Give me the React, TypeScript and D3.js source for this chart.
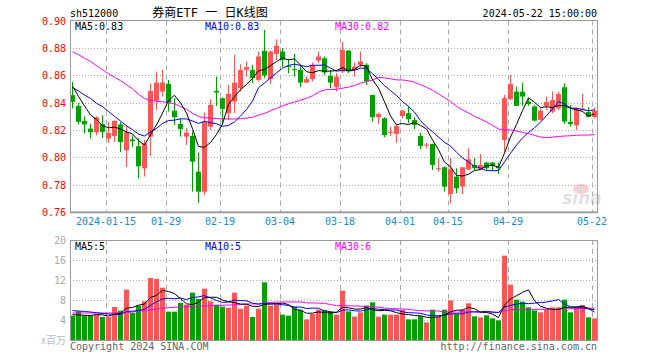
import React from "react";
import * as d3 from "d3";

// ---- data ----
const opens = [0.8454,0.8376,0.8266,0.8210,0.8183,0.8242,0.8137,0.8156,0.8240,0.8051,0.8130,0.8081,0.7919,0.8151,0.8415,0.8480,0.8537,0.8341,0.8244,0.8151,0.8156,0.7895,0.7749,0.8224,0.8485,0.8432,0.8322,0.8407,0.8505,0.8639,0.8639,0.8566,0.8778,0.8571,0.8756,0.8773,0.8668,0.8644,0.8639,0.8546,0.8571,0.8707,0.8724,0.8595,0.8512,0.8627,0.8780,0.8639,0.8676,0.8676,0.8456,0.8293,0.8285,0.8180,0.8171,0.8302,0.8322,0.8273,0.8156,0.8090,0.8098,0.7917,0.7927,0.7732,0.7859,0.7785,0.7910,0.7944,0.7912,0.7961,0.7961,0.7932,0.8127,0.8424,0.8480,0.8480,0.8407,0.8371,0.8273,0.8376,0.8334,0.8358,0.8512,0.8259,0.8234,0.8344,0.8332,0.8295];
const highs = [0.8552,0.8400,0.8300,0.8247,0.8300,0.8307,0.8259,0.8270,0.8259,0.8234,0.8161,0.8139,0.8127,0.8541,0.8627,0.8639,0.8566,0.8432,0.8285,0.8212,0.8188,0.8034,0.8327,0.8424,0.8590,0.8437,0.8529,0.8749,0.8680,0.8700,0.8676,0.8773,0.8932,0.8780,0.8863,0.8798,0.8717,0.8756,0.8676,0.8590,0.8693,0.8773,0.8737,0.8639,0.8615,0.8846,0.8785,0.8693,0.8773,0.8688,0.8456,0.8327,0.8293,0.8224,0.8237,0.8346,0.8371,0.8293,0.8180,0.8107,0.8098,0.7993,0.7932,0.7993,0.7920,0.7927,0.8066,0.7993,0.8024,0.7968,0.7968,0.7961,0.8456,0.8602,0.8517,0.8546,0.8432,0.8383,0.8358,0.8444,0.8480,0.8480,0.8541,0.8383,0.8364,0.8463,0.8366,0.8366];
const lows = [0.8357,0.8240,0.8174,0.8137,0.8161,0.8141,0.8105,0.8112,0.8039,0.7929,0.8075,0.7846,0.7859,0.8010,0.8346,0.8444,0.8334,0.8237,0.8151,0.8090,0.7749,0.7668,0.7724,0.8200,0.8376,0.8237,0.8273,0.8322,0.8480,0.8590,0.8541,0.8554,0.8578,0.8537,0.8712,0.8659,0.8615,0.8590,0.8512,0.8541,0.8554,0.8688,0.8602,0.8505,0.8480,0.8615,0.8615,0.8590,0.8659,0.8529,0.8261,0.8244,0.8146,0.8156,0.8107,0.8285,0.8249,0.8205,0.8059,0.8066,0.7907,0.7895,0.7749,0.7663,0.7737,0.7730,0.7910,0.7907,0.7907,0.7907,0.7902,0.7878,0.8041,0.8420,0.8376,0.8376,0.8376,0.8261,0.8268,0.8346,0.8322,0.8346,0.8244,0.8224,0.8200,0.8344,0.8293,0.8285];
const closes = [0.8405,0.8259,0.8240,0.8183,0.8291,0.8185,0.8178,0.8266,0.8112,0.8185,0.8117,0.7934,0.8102,0.8485,0.8546,0.8546,0.8395,0.8293,0.8207,0.8180,0.7968,0.7749,0.8261,0.8383,0.8473,0.8354,0.8463,0.8546,0.8639,0.8659,0.8578,0.8737,0.8598,0.8773,0.8815,0.8712,0.8659,0.8639,0.8546,0.8571,0.8676,0.8737,0.8620,0.8546,0.8590,0.8785,0.8627,0.8663,0.8700,0.8554,0.8293,0.8317,0.8163,0.8185,0.8229,0.8341,0.8278,0.8237,0.8083,0.8093,0.7944,0.7920,0.7785,0.7912,0.7773,0.7927,0.7985,0.7920,0.7944,0.7920,0.7937,0.7920,0.8432,0.8534,0.8376,0.8444,0.8390,0.8268,0.8340,0.8405,0.8418,0.8462,0.8261,0.8242,0.8355,0.8355,0.8295,0.8340];
const volumes = [4.87,5.73,4.87,4.87,5.07,4.6,4.6,6.6,5.87,10.07,5.4,6.87,7.73,12.4,12.2,10.47,5.67,5.67,7.4,7.07,9.47,8.2,10.27,7.73,7.07,6.67,6.47,9.47,6.27,6.87,4.6,6.27,11.53,6.87,7.13,5.07,4.87,6.6,6.07,4.13,5.2,6.07,6.0,5.6,5.07,9.87,5.73,4.67,5.53,6.87,7.53,4.67,5.07,5.07,5.07,6.07,4.13,4.13,4.8,3.53,6.07,4.6,6.07,7.93,5.2,6.07,7.33,4.73,4.53,4.93,4.33,3.93,16.87,11.07,8.07,7.67,6.53,5.93,5.53,6.07,6.53,6.53,8.07,5.53,6.53,7.0,4.53,4.33];

// moving-average values at the left edge (window starts before the visible data)
const ma5Lead = [0.852,0.8445,0.8375,0.831];
const ma10Lead = [0.851,0.8485,0.8455,0.843,0.8395,0.837,0.8335,0.830,0.8265];
const ma30Lead = [0.8771,0.8750,0.8725,0.8700,0.8670,0.8640,0.8610,0.8585,0.8560,0.8530,0.8500,0.8460,0.8430,0.8415,0.8410,0.8405,0.8400,0.8390,0.8371,0.8351,0.8322,0.8298,0.8290,0.8285,0.8283,0.8281,0.8280,0.8280,0.8282];
const vma5Lead = [5.07,5.0,4.95,4.9];
const vma10Lead = [5.87,5.8,5.7,5.6,5.45,5.3,5.2,5.15,5.1];
const vma30Lead = [5.4,5.4,5.4,5.4,5.4,5.4,5.4,5.42,5.45,5.5,5.6,5.75,5.9,6.05,6.2,6.35,6.45,6.55,6.6,6.65,6.7,6.75,6.8,6.85,6.9,6.95,7.0,7.05,7.1];

const tickIndex = [6,16,25,35,45,55,63,73,87];
const tickLabels = ["2024-01-15","01-29","02-19","03-04","03-18","04-01","04-15","04-29","05-22"];
const priceTicks = [0.90,0.88,0.86,0.84,0.82,0.80,0.78,0.76];
const volTicks = [20,16,12,8,4];
const volLegendValues = ["5","5","6"];

const code = "sh512000";
const title = "券商ETF 一 日K线图";
const stamp = "2024-05-22 15:00:00";

// ---- layout ----
const W = 660, H = 360;
const L = 70, R = 597;
const MT = 20.5, MB = 212;
const VT = 240, VB = 340;
const RED = "#ff5555", GREEN = "#00a000";
const MONO = "'DejaVu Sans Mono', monospace";

function movingAvg(vals: number[], n: number, lead: number[]) {
  return vals.map((_, i) => (i < n - 1 ? lead[i] : d3.mean(vals.slice(i - n + 1, i + 1)) as number));
}

export default function App() {
  const n = closes.length;
  const x = d3.scaleLinear().domain([0, n]).range([L, L + 6 * n]);
  const bw = 5;
  const cx = (i: number) => x(i) + 2.5;
  const y = d3.scaleLinear().domain([0.76, 0.9]).range([MB, MT]);
  const yv = d3.scaleLinear().domain([0, 20]).range([VB, VT]);

  const ma5 = movingAvg(closes, 5, ma5Lead);
  const ma10 = movingAvg(closes, 10, ma10Lead);
  const ma30 = movingAvg(closes, 30, ma30Lead);
  const vma5 = movingAvg(volumes, 5, vma5Lead);
  const vma10 = movingAvg(volumes, 10, vma10Lead);
  const vma30 = movingAvg(volumes, 30, vma30Lead);

  const lineP = d3.line<number>().x((_, i) => cx(i)).y((d) => y(d));
  const lineV = d3.line<number>().x((_, i) => cx(i)).y((d) => yv(d));
  const crisp = (v: number) => Math.round(v) + 0.5;

  const up = (i: number) => closes[i] >= opens[i];
  const maColors = ["#000000", "#0000ff", "#ff00ff"];
  const legendX = [75, 205, 335];
  const priceLegend = [ma5, ma10, ma30].map((a, k) => ["MA5:", "MA10:", "MA30:"][k] + a[n - 1].toFixed(2));
  const volLegend = volLegendValues.map((v, k) => ["MA5:", "MA10:", "MA30:"][k] + v);

  return (
    <svg width={W} height={H} style={{ position: "absolute", left: 0, top: 0, background: "#fff" }}
      fontFamily={MONO} fontSize={10}>
      <rect x={0} y={0} width={W} height={H} fill="#fff" />
      {/* header */}
      <text x={70} y={16.5} fill="#000">{code}</text>
      <text x={210} y={17} textAnchor="middle" fontSize={12} fontFamily="'DejaVu Sans Mono', 'Noto Sans CJK SC', monospace" fill="#000">{title}</text>
      <text x={597} y={16.5} textAnchor="end" fill="#000">{stamp}</text>

      {/* watermark */}
      <g opacity={0.55}>
        <ellipse cx={581} cy={189} rx={8} ry={5} fill="#f3a9a9" />
        <circle cx={582} cy={189} r={2.5} fill="#bbb" />
        <text x={582} y={204} textAnchor="middle" fontSize={17} fontStyle="italic" fontWeight="bold"
          fontFamily="'DejaVu Sans', sans-serif" fill="#c8c8c8">sina</text>
      </g>

      {/* main grid */}
      {priceTicks.slice(1, -1).map((t) => (
        <line key={"hg" + t} x1={L} x2={R} y1={crisp(y(t))} y2={crisp(y(t))} stroke="#aaa" strokeDasharray="1,2" />
      ))}
      {tickIndex.map((ti) => (
        <line key={"vg" + ti} x1={x(ti) + 0.5} x2={x(ti) + 0.5} y1={MT} y2={MB} stroke="#aaa" strokeDasharray="5,4" />
      ))}
      {/* volume grid */}
      {volTicks.slice(1).map((t) => (
        <line key={"vhg" + t} x1={L} x2={R} y1={crisp(yv(t))} y2={crisp(yv(t))} stroke="#aaa" strokeDasharray="1,2" />
      ))}
      {tickIndex.map((ti) => (
        <line key={"vvg" + ti} x1={x(ti) + 0.5} x2={x(ti) + 0.5} y1={VT} y2={VB} stroke="#aaa" strokeDasharray="5,4" />
      ))}

      {/* candles */}
      {closes.map((c, i) => {
        const col = up(i) ? RED : GREEN;
        const top = y(Math.max(opens[i], c));
        const bot = y(Math.min(opens[i], c));
        return (
          <g key={"c" + i}>
            <line x1={cx(i)} x2={cx(i)} y1={y(highs[i])} y2={y(lows[i])} stroke={col} strokeWidth={1} />
            <rect x={x(i)} y={top} width={bw} height={Math.max(1, bot - top)} fill={col} />
          </g>
        );
      })}
      {[ma30, ma10, ma5].map((a, k) => (
        <path key={"ma" + k} d={lineP(a) as string} fill="none" stroke={maColors[2 - k]} strokeWidth={1} />
      ))}

      {/* volume bars */}
      {volumes.map((v, i) => (
        <rect key={"v" + i} x={x(i)} y={yv(v)} width={bw} height={VB - yv(v)} fill={up(i) ? RED : GREEN} />
      ))}
      {[vma30, vma10, vma5].map((a, k) => (
        <path key={"vma" + k} d={lineV(a) as string} fill="none" stroke={maColors[2 - k]} strokeWidth={1} />
      ))}

      {/* frames */}
      <rect x={L + 0.5} y={MT} width={R - L} height={MB - MT} fill="none" stroke="#999" />
      <line x1={L} x2={R + 1} y1={MB + 0.5} y2={MB + 0.5} stroke="#999" strokeWidth={1.5} />
      <rect x={L + 0.5} y={VT + 0.5} width={R - L} height={VB - VT} fill="none" stroke="#999" />

      {/* legends */}
      {priceLegend.map((t, k) => (
        <text key={"pl" + k} x={legendX[k]} y={29.5} fill={maColors[k]}>{t}</text>
      ))}
      {volLegend.map((t, k) => (
        <text key={"vl" + k} x={legendX[k]} y={250} fill={maColors[k]}>{t}</text>
      ))}

      {/* axes labels */}
      {priceTicks.map((t) => (
        <text key={"pt" + t} x={66} y={y(t) + 4} textAnchor="end" fill="#ff0000">{t.toFixed(2)}</text>
      ))}
      {tickIndex.map((ti, k) => (
        <text key={"dl" + ti} x={x(ti)} y={225} textAnchor="middle" fill="#1a8ad4">{tickLabels[k]}</text>
      ))}
      {volTicks.map((t) => (
        <text key={"vt" + t} x={66} y={yv(t) + 4} textAnchor="end" fill="#aaa">{t}</text>
      ))}
      <text x={66} y={344} textAnchor="end" fill="#bbb" fontSize={10} fontFamily="'Noto Sans CJK SC', sans-serif">x百万</text>
      <text x={70} y={350} fill="#666">Copyright 2024 SINA.COM</text>
      <text x={597} y={350} textAnchor="end" fill="#666">http://finance.sina.com.cn</text>
    </svg>
  );
}
